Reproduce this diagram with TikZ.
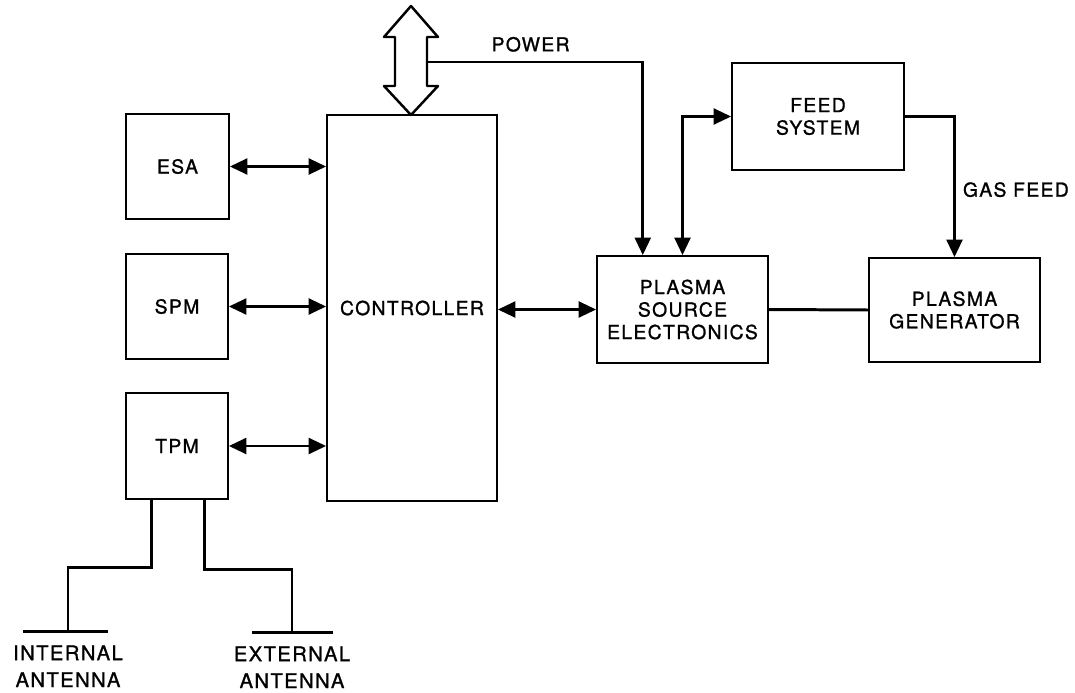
\documentclass[tikz,border=0pt]{standalone}
\usepackage{fontspec}
\setmainfont[LetterSpace=7, FakeBold=1.1]{TeX Gyre Heros}
\usetikzlibrary{arrows.meta,calc}
\begin{document}
\begin{tikzpicture}[x=0.02cm, y=-0.02cm,
	every node/.style={inner sep=2pt, font=\fontsize{11}{12.8}\selectfont},
	box/.style={draw, line width=1pt, align=center},
	conn/.style={line width=1.7pt},
	tip/.tip={Triangle[length=10pt,width=9pt]}]
					\useasboundingbox (0,0) rectangle (1075,693);
					
					\node [box, minimum width=2.06cm, minimum height=2.1cm] (esa) at (177.5,166.5) {ESA};
					\node [box, minimum width=2.04cm, minimum height=2.1cm] (spm) at (177,306.5) {SPM};
					\node [box, minimum width=2.04cm, minimum height=2.12cm] (tpm) at (177,446) {TPM};
					
					\node [box, minimum width=3.4cm, minimum height=7.72cm] (ctrl) at (412,308) {CONTROLLER};
					
					\node [box, minimum width=3.42cm, minimum height=2.14cm] (pse) at (682.5,309.5) {PLASMA\\SOURCE\\ELECTRONICS};
					\node [box, minimum width=3.44cm, minimum height=2.14cm] (feed) at (818,116.5) {FEED\\SYSTEM};
					\node [box, minimum width=3.42cm, minimum height=2.08cm] (gen) at (954.5,310) {PLASMA\\GENERATOR};
					
					% data bus
					\draw[line width=1.4pt, line join=round] (411,6) -- (438,37) -- (427,37) -- (427,86) -- (438,86) -- (411,115)
						-- (384,86) -- (395,86) -- (395,37) -- (384,37) -- cycle;
					\coordinate (bus) at (427,62);
					
					\draw[conn, tip-tip] (esa.east) -- (esa.east -| ctrl.west);
					\draw[conn, tip-tip] (spm.east) -- (spm.east -| ctrl.west);
					\draw[conn, tip-tip] (tpm.east) -- (tpm.east -| ctrl.west);
					\draw[conn, tip-tip] (ctrl.east |- pse.west) -- (pse.west);
					\draw[conn] (pse.east) -- (gen.west);
					
					\draw[conn, -tip] (bus) -| ($(pse.north west)!0.27!(pse.north east)$) node[pos=0.24, above=3pt] {POWER};
					\draw[conn, tip-tip] (pse.north) |- (feed.west);
					\draw[conn, -tip] (feed.east) -| (gen.north) node[pos=0.76, right=2pt] {GAS FEED};
					
					% antennas
					\coordinate (inant) at (68,631);
					\coordinate (exant) at (292,632);
					\draw[conn] ($(tpm.south west)!0.255!(tpm.south east)$) -- ++(0,68) -| (inant);
					\draw[conn] ($(tpm.south west)!0.765!(tpm.south east)$) -- ++(0,70) -| (exant);
					\draw[conn] ($(inant)+(-45,0)$) -- ($(inant)+(40,0)$);
					\draw[conn] ($(exant)+(-40,0)$) -- ($(exant)+(41,0)$);
					\node [align=center, below=6pt, font=\fontsize{11.5}{15.3}\selectfont] (inlbl) at (inant) {INTERNAL\\ANTENNA};
					\node [align=center, below=6pt, font=\fontsize{11.5}{15.3}\selectfont] (exlbl) at (exant) {EXTERNAL\\ANTENNA};
				\end{tikzpicture}
\end{document}
